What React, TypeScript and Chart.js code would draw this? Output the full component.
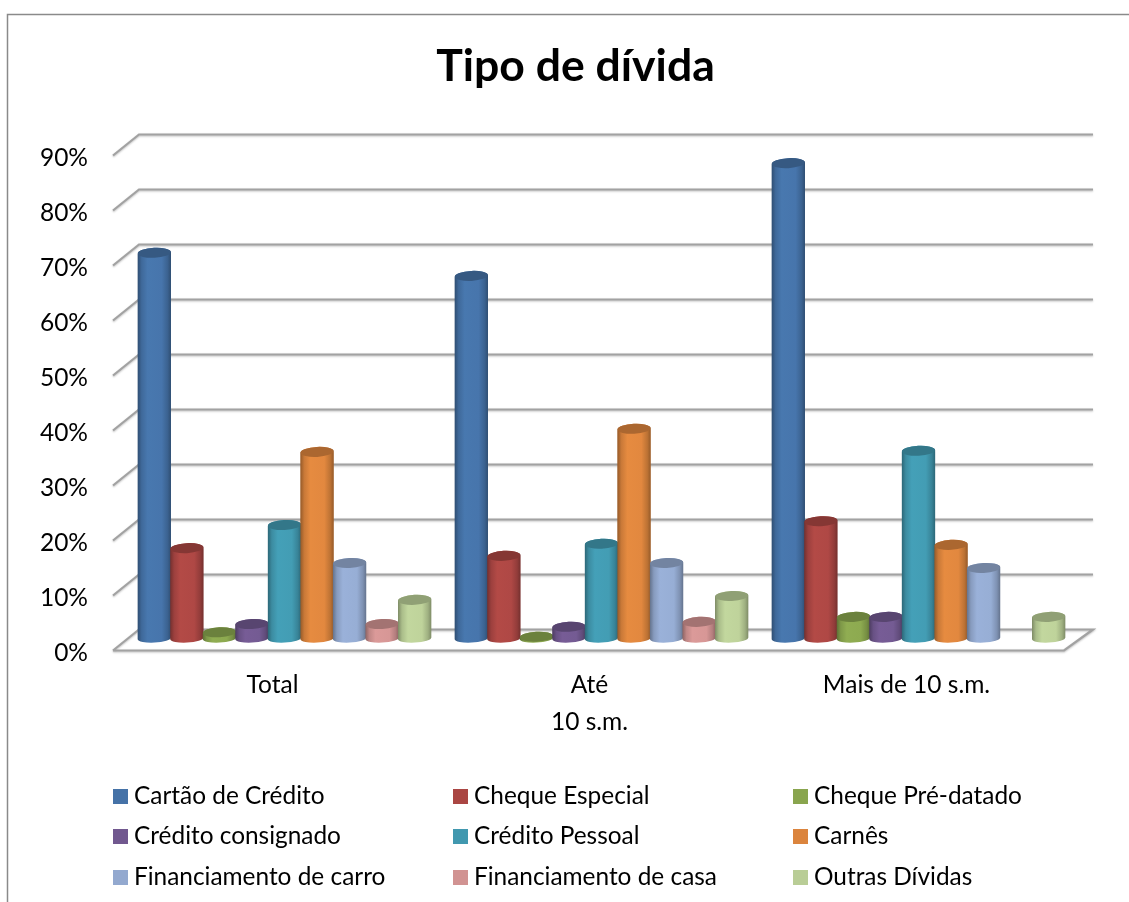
import React, { useEffect, useRef } from "react";
import { Chart, registerables } from "chart.js";

Chart.register(...registerables);

const categories: (string | string[])[] = ["Total", ["Até", "10 s.m."], "Mais de 10 s.m."];
const tickValues = [0, 10, 20, 30, 40, 50, 60, 70, 80, 90];
const seriesNames = [
  "Cartão de Crédito", "Cheque Especial", "Cheque Pré-datado",
  "Crédito consignado", "Crédito Pessoal", "Carnês",
  "Financiamento de carro", "Financiamento de casa", "Outras Dívidas",
];
const seriesColors = [
  "#4572A7", "#AA4643", "#89A54E", "#71588F", "#4198AF", "#DB843D", "#93A9CF", "#D19392", "#B9CD96",
];
const cartao = [70.4, 66.2, 86.7];
const chequeEspecial = [16.7, 15.3, 21.6];
const chequePre = [1.4, 0.6, 4.2];
const consignado = [2.9, 2.4, 4.2];
const pessoal = [20.9, 17.5, 34.4];
const carnes = [34.2, 38.4, 17.3];
const carro = [14.0, 14.0, 13.1];
const casa = [2.9, 3.3, null];
const outras = [7.3, 8.0, 4.2];
const seriesValues = [cartao, chequeEspecial, chequePre, consignado, pessoal, carnes, carro, casa, outras];

const FONT = "Lato, Carlito, sans-serif";
const DEPTH_X = 13;
const DEPTH_Y = 10.5;

function shade(hex: string, f: number) {
  const n = parseInt(hex.slice(1), 16);
  const c = [(n >> 16) & 255, (n >> 8) & 255, n & 255].map((v) => Math.min(255, Math.round(v * f)));
  return `rgb(${c[0]},${c[1]},${c[2]})`;
}

const framePlugin = {
  id: "frame",
  beforeDraw(chart: any) {
    const { ctx } = chart;
    ctx.save();
    ctx.strokeStyle = "#8a8a8a";
    ctx.lineWidth = 1.5;
    ctx.beginPath();
    ctx.moveTo(7.5, chart.height);
    ctx.lineTo(7.5, 14.5);
    ctx.lineTo(chart.width, 14.5);
    ctx.stroke();
    ctx.restore();
  },
};

const wallPlugin = {
  id: "wall",
  beforeDatasetsDraw(chart: any) {
    const { ctx, chartArea, scales } = chart;
    const y = scales.y;
    const l = chartArea.left;
    const r = chartArea.right;
    ctx.save();
    ctx.strokeStyle = "#a2a2a2";
    ctx.lineWidth = 2.2;
    ctx.lineJoin = "miter";
    ctx.shadowColor = "rgba(0,0,0,0.25)";
    ctx.shadowBlur = 2;
    ctx.shadowOffsetY = 1;
    tickValues.forEach((v) => {
      const p = y.getPixelForValue(v);
      ctx.beginPath();
      ctx.moveTo(l - DEPTH_X, p + DEPTH_Y);
      ctx.lineTo(l + 13, p - DEPTH_Y);
      ctx.lineTo(r + DEPTH_X + 3, p - DEPTH_Y);
      if (v === 0) {
        ctx.lineTo(r - DEPTH_X, p + DEPTH_Y);
        ctx.lineTo(l - DEPTH_X, p + DEPTH_Y);
      }
      ctx.stroke();
    });
    ctx.restore();
  },
};

const TILT = -0.05;

const cylinderPlugin = {
  id: "cylinders",
  afterDatasetsDraw(chart: any) {
    const { ctx, scales } = chart;
    const zero = scales.y.getPixelForValue(0);
    chart.data.datasets.forEach((ds: any, di: number) => {
      const color = seriesColors[di];
      chart.getDatasetMeta(di).data.forEach((bar: any, i: number) => {
        if (!ds.data[i]) return;
        const { x, y, width } = bar.getProps(["x", "y", "width"], true);
        const rx = width / 2 + 0.4;
        const ry = 5;
        const bottom = zero - 1.6;
        const left = x - rx;
        const right = x + rx;
        const top = Math.min(y, bottom);
        ctx.save();
        const g = ctx.createLinearGradient(left, 0, right, 0);
        g.addColorStop(0, shade(color, 0.68));
        g.addColorStop(0.12, shade(color, 0.92));
        g.addColorStop(0.3, shade(color, 1.05));
        g.addColorStop(0.72, shade(color, 1.03));
        g.addColorStop(0.9, shade(color, 0.86));
        g.addColorStop(1, shade(color, 0.68));
        ctx.fillStyle = g;
        ctx.beginPath();
        ctx.moveTo(left, top);
        ctx.lineTo(left, bottom);
        ctx.ellipse(x, bottom, rx, ry - 0.8, TILT, Math.PI, 0, true);
        ctx.lineTo(right, top);
        ctx.ellipse(x, top, rx, ry, TILT, 0, Math.PI, true);
        ctx.closePath();
        ctx.fill();
        ctx.fillStyle = shade(color, 0.78);
        ctx.beginPath();
        ctx.ellipse(x, top, rx - 0.3, ry, TILT, 0, Math.PI * 2);
        ctx.fill();
        ctx.restore();
      });
    });
  },
};

const legendColumns = [113, 453, 793];
const legendRows = [796.5, 836.5, 877.5];

const gridLegendPlugin = {
  id: "gridLegend",
  afterDraw(chart: any) {
    const { ctx } = chart;
    ctx.save();
    ctx.font = `24.4px ${FONT}`;
    ctx.textBaseline = "alphabetic";
    ctx.textAlign = "left";
    chart.data.datasets.forEach((ds: any, i: number) => {
      const x = legendColumns[i % 3];
      const y = legendRows[Math.floor(i / 3)];
      ctx.fillStyle = seriesColors[i];
      ctx.fillRect(x, y - 7.5, 15, 15);
      ctx.fillStyle = "#000";
      ctx.fillText(ds.label, x + 21, y + 7);
    });
    ctx.restore();
  },
};

export default function App() {
  const ref = useRef<HTMLCanvasElement>(null);
  useEffect(() => {
    const chart = new Chart(ref.current as HTMLCanvasElement, {
      type: "bar",
      data: {
        labels: categories as any,
        datasets: seriesNames.map((label, i) => ({
          label,
          data: seriesValues[i],
          backgroundColor: seriesColors[i],
          borderWidth: 0,
          barPercentage: 1,
          categoryPercentage: 0.924,
          base: 0.5,
        })),
      },
      plugins: [framePlugin, wallPlugin, cylinderPlugin, gridLegendPlugin],
      options: {
        responsive: false,
        animation: false,
        layout: { padding: { left: 22, right: 0, top: 0, bottom: 0 } },
        plugins: {
          legend: { display: false },
          tooltip: { enabled: false },
          title: {
            display: true,
            text: "Tipo de dívida",
            color: "#000",
            font: { family: FONT, size: 44.5, weight: "bold", lineHeight: 1.2 },
            padding: { top: 39.5, bottom: 52.1 },
          },
        },
        scales: {
          x: {
            grid: { display: false, drawTicks: false },
            border: { display: false },
            afterFit(scale: any) {
              scale.height = 262;
            },
            ticks: {
              color: "#000",
              maxRotation: 0,
              minRotation: 0,
              autoSkip: false,
              labelOffset: -12,
              padding: 27,
              font: { family: FONT, size: 24.5, lineHeight: 1.51 },
            },
          },
          y: {
            min: 0,
            max: 90,
            grid: { display: false, drawTicks: false },
            border: { display: false },
            afterFit(scale: any) {
              scale.width = 104;
            },
            afterBuildTicks(scale: any) {
              scale.ticks = tickValues.map((value) => ({ value }));
            },
            ticks: {
              color: "#000",
              padding: 38,
              labelOffset: DEPTH_Y + 2.5,
              font: { family: FONT, size: 24.5 },
              callback: (v: any) => `${v}%`,
            },
          },
          rightGutter: {
            type: "linear",
            position: "right",
            min: 0,
            max: 90,
            grid: { display: false, drawTicks: false },
            border: { display: false },
            ticks: { display: false },
            afterFit(scale: any) {
              scale.width = 52;
            },
          },
        },
      },
    } as any);
    return () => chart.destroy();
  }, []);
  return (
    <canvas
      ref={ref}
      width={1129}
      height={902}
      style={{ position: "absolute", left: 0, top: 0, display: "block", filter: "blur(0.5px)" }}
    />
  );
}
